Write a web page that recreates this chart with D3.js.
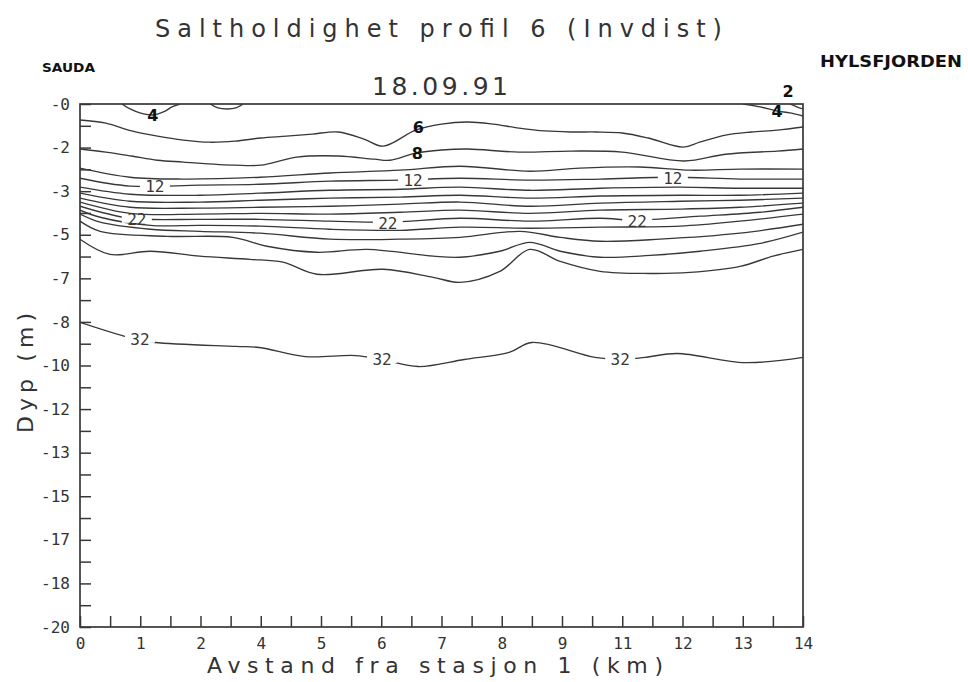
<!DOCTYPE html>
<html><head><meta charset="utf-8">
<script src="https://cdn.jsdelivr.net/npm/d3@7"></script>
<style>
html,body{margin:0;padding:0;background:#fff;}
svg{display:block;}
</style></head>
<body><svg id="chart" width="968" height="682"></svg>
<script>
// ---------- texts ----------
const titleText = "Saltholdighet profil 6 (Invdist)";
const dateText = "18.09.91";
const leftPlace = "SAUDA";
const rightPlace = "HYLSFJORDEN";
const xAxisTitle = "Avstand fra stasjon 1 (km)";
const yAxisTitle = "Dyp (m)";

// ---------- axes ----------
const distanceMax = 14;   // km
const depthMax = 20;      // m
const labelSteps = 12;    // labelled ticks, minor tick halfway

// ---------- contour lines: [distance km, depth m] ----------
const iso2East = [[13.75,0],[13.88,-0.11],[14,-0.19]];
const iso4West = [[0.81,0],[0.97,-0.19],[1.16,-0.34],[1.41,-0.42],[1.65,-0.27],[1.78,-0.11],[1.94,0]];
const iso4Mid  = [[2.52,0],[2.67,-0.15],[2.85,-0.19],[3.02,-0.15],[3.16,0]];
const iso4East = [[12.84,0],[13.17,-0.11],[13.5,-0.27],[13.75,-0.34],[14,-0.46]];
const iso6 = [[0,-0.61],[0.5,-0.73],[1,-1.03],[1.5,-1.23],[2,-1.38],[2.5,-1.46],[3,-1.42],[3.5,-1.30],[4,-1.23],[4.5,-1.15],[5,-1.07],[5.5,-1.34],[5.87,-1.61],[6.5,-1.00],[7,-0.77],[7.5,-0.69],[8,-0.77],[8.5,-0.92],[9,-1.03],[9.5,-1.07],[10,-1.07],[10.5,-1.11],[11,-1.30],[11.68,-1.65],[12,-1.46],[12.5,-1.19],[13,-1.07],[13.5,-1.00],[14,-0.88]];
const iso8 = [[0,-1.72],[0.5,-1.84],[1,-1.99],[1.5,-2.15],[2,-2.22],[3,-2.34],[3.5,-2.34],[4.2,-2.03],[5,-1.99],[5.7,-2.11],[6,-2.15],[6.5,-1.88],[7,-1.76],[7.5,-1.72],[8.5,-1.84],[9.5,-1.80],[10.5,-1.84],[11.7,-2.18],[12.5,-1.92],[13.5,-1.80],[14,-1.72]];
const iso10 = [[0,-2.45],[0.97,-2.80],[1.99,-2.87],[3.49,-2.80],[4.84,-2.64],[6.20,-2.53],[7.36,-2.38],[8.71,-2.57],[9.68,-2.45],[10.84,-2.41],[11.81,-2.53],[12.78,-2.49],[14,-2.49]];
const iso12 = [[0,-2.84],[0.97,-3.14],[2.32,-3.10],[3.49,-3.07],[4.84,-2.95],[6.20,-2.91],[7.36,-2.84],[8.71,-2.91],[10.07,-2.87],[11.48,-2.80],[12.78,-2.87],[14,-2.87]];
const iso14 = [[0,-3.18],[0.97,-3.45],[2.32,-3.49],[3.49,-3.41],[4.84,-3.30],[6.20,-3.26],[7.36,-3.18],[8.71,-3.30],[10.07,-3.22],[11.62,-3.18],[12.78,-3.22],[14,-3.22]];
const iso16 = [[0,-3.41],[0.97,-3.72],[2.32,-3.75],[3.49,-3.68],[4.84,-3.60],[6.20,-3.56],[7.36,-3.49],[8.71,-3.60],[10.07,-3.52],[11.62,-3.49],[12.78,-3.49],[14,-3.41]];
const iso18 = [[0,-3.60],[0.97,-3.95],[2.32,-3.98],[3.49,-3.95],[4.84,-3.91],[6.20,-3.83],[7.36,-3.75],[8.71,-3.91],[10.07,-3.79],[11.62,-3.72],[12.78,-3.68],[14,-3.60]];
const iso20 = [[0,-3.75],[0.97,-4.18],[2.32,-4.21],[3.49,-4.18],[4.84,-4.21],[6.20,-4.14],[7.36,-4.06],[8.71,-4.18],[10.07,-4.06],[11.62,-4.02],[12.78,-3.95],[14,-3.79]];
const iso22 = [[0,-3.91],[0.97,-4.37],[2.32,-4.41],[3.49,-4.41],[4.84,-4.48],[5.96,-4.52],[7.36,-4.37],[8.71,-4.48],[10.07,-4.37],[10.77,-4.44],[12.01,-4.29],[13.17,-4.14],[14,-3.95]];
const iso24 = [[0,-4.06],[0.39,-4.33],[1.36,-4.64],[2.32,-4.64],[3.49,-4.67],[4.84,-4.79],[6.20,-4.83],[7.36,-4.71],[8.71,-4.75],[10.07,-4.71],[11.62,-4.67],[12.78,-4.48],[14,-4.21]];
const iso26 = [[0,-4.21],[0.39,-4.52],[1.36,-4.79],[2.32,-4.87],[3.49,-4.94],[4.84,-5.17],[6.20,-5.17],[7.36,-5.10],[8.52,-4.87],[9.30,-5.10],[10.07,-5.25],[11.23,-5.17],[12.78,-4.94],[14,-4.60]];
const iso28 = [[0,-4.48],[0.39,-4.87],[1.68,-5.06],[2.96,-5.10],[3.62,-5.44],[4.59,-5.67],[5.56,-5.56],[6.84,-5.82],[7.36,-5.86],[8.13,-5.63],[8.71,-5.29],[9.30,-5.63],[10.07,-5.86],[11.04,-5.79],[12.01,-5.63],[13.17,-5.33],[14,-4.90]];
const iso30 = [[0,-5.17],[0.58,-5.75],[1.36,-5.63],[2.32,-5.82],[3.29,-5.94],[3.93,-6.05],[4.59,-6.51],[5.87,-6.32],[6.84,-6.63],[7.36,-6.82],[8.13,-6.40],[8.71,-5.56],[9.30,-6.02],[10.07,-6.40],[11.04,-6.48],[11.81,-6.44],[12.78,-6.21],[13.42,-5.82],[14,-5.56]];
const iso32 = [[0,-8.35],[1.08,-9.00],[1.45,-9.12],[3.02,-9.27],[3.47,-9.31],[4.36,-9.66],[5.33,-9.62],[5.85,-9.77],[6.55,-10.04],[7.44,-9.77],[8.31,-9.50],[8.75,-9.12],[9.97,-9.69],[10.46,-9.77],[10.94,-9.69],[11.56,-9.54],[12.88,-9.89],[14,-9.69]];

// printed contour labels (positions on the lines)
const labels12 = [[1.45,-3.14],[6.45,-2.91],[11.48,-2.84]];
const labels22 = [[1.10,-4.41],[5.96,-4.56],[10.79,-4.48]];
const labels32 = [[1.16,-9.00],[5.85,-9.77],[10.46,-9.77]];
// hand-written labels
const handLabels = ["4","6","8","4","2"];
const handPos = [[1.41,-0.42],[6.55,-0.90],[6.53,-1.88],[13.5,-0.27],[13.71,0.50]];

// ---------- drawing ----------
const W = 968, H = 682;
const plot = {left:80, top:104, right:803, bottom:627};
const svg = d3.select("#chart");
const ink = "#383838";

const x = d3.scaleLinear().domain([0, distanceMax]).range([plot.left, plot.right]);
const y = d3.scaleLinear().domain([0, -depthMax]).range([plot.top, plot.bottom]);

svg.append("defs").append("clipPath").attr("id","clip")
  .append("rect").attr("x",plot.left).attr("y",plot.top)
  .attr("width",plot.right-plot.left).attr("height",plot.bottom-plot.top);

const lines = [iso2East, iso4West, iso4Mid, iso4East, iso6, iso8, iso10, iso12, iso14, iso16,
               iso18, iso20, iso22, iso24, iso26, iso28, iso30, iso32];
const lineGen = d3.line().x(d => x(d[0])).y(d => y(d[1])).curve(d3.curveCatmullRom.alpha(0.5));

const gLines = svg.append("g").attr("clip-path","url(#clip)");
gLines.selectAll("path").data(lines).join("path")
  .attr("d", lineGen).attr("fill","none").attr("stroke",ink).attr("stroke-width",1.35);

// printed labels with gaps
const printed = [
  ...labels12.map(p => ({t:"12", p})),
  ...labels22.map(p => ({t:"22", p})),
  ...labels32.map(p => ({t:"32", p}))
];
const gLab = svg.append("g");
printed.forEach(d => {
  const cx = x(d.p[0]), cy = y(d.p[1]);
  gLab.append("rect").attr("x",cx-15).attr("y",cy-3.5).attr("width",30).attr("height",7).attr("fill","#fff");
  gLab.append("text").attr("x",cx).attr("y",cy).attr("dy","0.36em")
    .attr("text-anchor","middle").attr("font-family","DejaVu Sans Mono").attr("font-size",16)
    .attr("fill",ink).text(d.t);
});

// hand-written labels
handLabels.forEach((t,i) => {
  svg.append("text").attr("x", x(handPos[i][0])).attr("y", y(handPos[i][1])).attr("dy","0.36em")
    .attr("text-anchor","middle").attr("font-family","DejaVu Sans").attr("font-weight","bold")
    .attr("font-size",16).attr("fill","#111").text(t);
});

// axes
const yTickVals = d3.range(0, 2*labelSteps+1).map(i => -i*depthMax/(2*labelSteps));
const xTickVals = d3.range(0, 2*labelSteps+1).map(i => i*distanceMax/(2*labelSteps));

const yAxis = d3.axisLeft(y).tickValues(yTickVals).tickSizeInner(-11).tickSizeOuter(0).tickPadding(10)
  .tickFormat((v,i) => i%2 ? "" : "-" + Math.round((i/2)*depthMax/labelSteps));
const xAxis = d3.axisBottom(x).tickValues(xTickVals).tickSizeInner(-11).tickSizeOuter(0).tickPadding(11)
  .tickFormat((v,i) => i%2 ? "" : String(Math.round((i/2)*distanceMax/labelSteps)));

const gy = svg.append("g").attr("transform",`translate(${plot.left},0)`).call(yAxis);
const gx = svg.append("g").attr("transform",`translate(0,${plot.bottom})`).call(xAxis);
[gx, gy].forEach(g => {
  g.select(".domain").remove();
  g.selectAll(".tick line").attr("stroke",ink).attr("stroke-width",1.5);
  g.selectAll(".tick text").attr("font-family","DejaVu Sans Mono").attr("font-size",16).attr("fill","#333");
});

// frame
svg.append("rect").attr("x",plot.left).attr("y",plot.top)
  .attr("width",plot.right-plot.left).attr("height",plot.bottom-plot.top)
  .attr("fill","none").attr("stroke",ink).attr("stroke-width",1.7);

// titles
svg.append("text").attr("x",155).attr("y",37).attr("textLength",567).attr("lengthAdjust","spacing")
  .attr("font-family","DejaVu Sans").attr("font-size",24).attr("fill","#333").text(titleText);
svg.append("text").attr("x",372).attr("y",95).attr("textLength",136).attr("lengthAdjust","spacing")
  .attr("font-family","DejaVu Sans").attr("font-size",25).attr("fill","#333").text(dateText);
svg.append("text").attr("x",42).attr("y",72).attr("textLength",53).attr("lengthAdjust","spacingAndGlyphs")
  .attr("font-family","DejaVu Sans").attr("font-weight","bold").attr("font-size",13).attr("fill","#111").text(leftPlace);
svg.append("text").attr("x",820).attr("y",67).attr("textLength",142).attr("lengthAdjust","spacingAndGlyphs")
  .attr("font-family","DejaVu Sans").attr("font-weight","bold").attr("font-size",15).attr("fill","#111").text(rightPlace);
svg.append("text").attr("x",207).attr("y",673).attr("textLength",456).attr("lengthAdjust","spacing")
  .attr("font-family","DejaVu Sans").attr("font-size",22).attr("fill","#333").text(xAxisTitle);
svg.append("text").attr("transform","translate(33,373) rotate(-90)").attr("text-anchor","middle")
  .attr("textLength",120).attr("lengthAdjust","spacing")
  .attr("font-family","DejaVu Sans").attr("font-size",22).attr("fill","#333").text(yAxisTitle);
</script>
</body></html>
